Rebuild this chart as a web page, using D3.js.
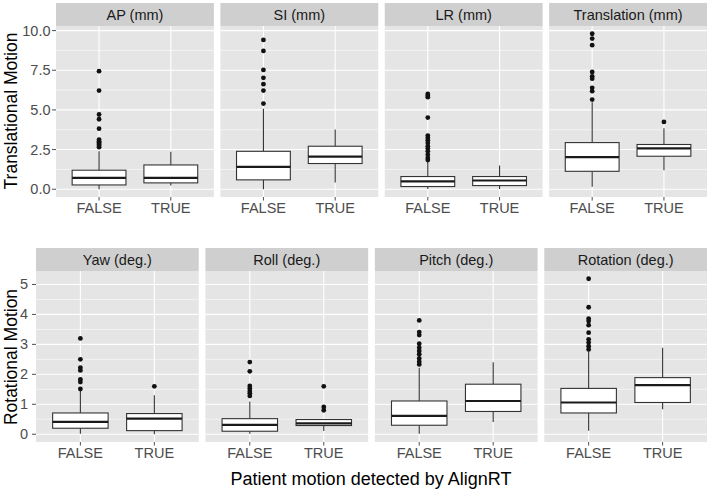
<!DOCTYPE html>
<html>
<head>
<meta charset="utf-8">
<script src="https://cdn.jsdelivr.net/npm/d3@7"></script>
<style>
  html, body { margin: 0; padding: 0; background: #ffffff; }
  svg { display: block; font-family: "Liberation Sans", Arial, sans-serif; }
</style>
</head>
<body>
<svg id="chart" width="709" height="492"></svg>
<script>
// ---------------- DATA ----------------
const groups = ["FALSE", "TRUE"];

const topPanels = ["AP (mm)", "SI (mm)", "LR (mm)", "Translation (mm)"];
const bottomPanels = ["Yaw (deg.)", "Roll (deg.)", "Pitch (deg.)", "Rotation (deg.)"];

const topTicks = [0, 2.5, 5, 7.5, 10];
const topTickLabels = ["0.0", "2.5", "5.0", "7.5", "10.0"];
const bottomTicks = [0, 1, 2, 3, 4, 5];
const bottomTickLabels = ["0", "1", "2", "3", "4", "5"];

// box stats per group: [lower whisker, Q1, median, Q3, upper whisker]
const apStats = [[0.00, 0.27, 0.71, 1.20, 2.40], [0.23, 0.40, 0.71, 1.53, 2.37]];
const apOutliers = [[7.44, 6.22, 4.71, 4.41, 3.82, 3.13, 3.03, 2.95, 2.87, 2.80, 2.72, 2.65], []];

const siStats = [[0.00, 0.59, 1.41, 2.39, 5.08], [0.42, 1.62, 2.06, 2.71, 3.76]];
const siOutliers = [[9.41, 8.72, 7.52, 7.02, 6.62, 6.22, 5.40], []];

const lrStats = [[0.02, 0.17, 0.50, 0.80, 1.72], [0.02, 0.23, 0.55, 0.80, 1.49]];
const lrOutliers = [[6.01, 5.90, 5.80, 4.52, 3.38, 3.24, 3.09, 2.92, 2.71, 2.56, 2.39, 2.18, 1.97, 1.84], []];

const transStats = [[0.15, 1.13, 2.02, 2.94, 5.48], [1.20, 2.08, 2.58, 2.82, 3.84]];
const transOutliers = [[9.80, 9.50, 9.08, 7.39, 7.12, 6.97, 6.39, 6.18, 5.65], [4.24]];

const yawStats = [[0.02, 0.20, 0.41, 0.71, 1.44], [0.00, 0.12, 0.52, 0.69, 1.30]];
const yawOutliers = [[3.20, 2.50, 2.22, 2.13, 1.83, 1.74, 1.51], [1.60]];

const rollStats = [[0.02, 0.10, 0.31, 0.52, 1.09], [0.11, 0.29, 0.36, 0.49, 0.50]];
const rollOutliers = [[2.41, 2.10, 1.61, 1.53, 1.44, 1.37, 1.28], [1.60, 0.91, 0.80]];

const pitchStats = [[0.02, 0.30, 0.61, 1.11, 2.22], [0.41, 0.76, 1.11, 1.67, 2.40]];
const pitchOutliers = [[3.80, 3.41, 3.31, 3.02, 2.89, 2.78, 2.67, 2.53, 2.42, 2.33], []];

const rotStats = [[0.12, 0.71, 1.06, 1.53, 2.76], [0.83, 1.06, 1.64, 1.89, 2.89]];
const rotOutliers = [[5.19, 4.24, 3.86, 3.78, 3.64, 3.39, 3.17, 3.06, 2.94, 2.83], []];

const topStats = [apStats, siStats, lrStats, transStats];
const topOut = [apOutliers, siOutliers, lrOutliers, transOutliers];
const bottomStats = [yawStats, rollStats, pitchStats, rotStats];
const bottomOut = [yawOutliers, rollOutliers, pitchOutliers, rotOutliers];

// ---------------- LAYOUT ----------------
const svg = d3.select("#chart");
const C = {
  panel: "#e5e5e5", strip: "#cfcfcf", grid: "#ffffff",
  axisText: "#4d4d4d", stripText: "#1a1a1a", box: "#333333", tick: "#4d4d4d"
};

function drawRow(opts) {
  const { left, right, stripTop, panelTop, panelBottom, gap, names, stats, outs,
          ticks, tickLabels, minorTicks, title, titleY, xLabelY, labelOffset } = opts;
  const n = names.length;
  const pw = (right - left - gap * (n - 1)) / n;

  // y domain from data with 5% expansion
  let maxV = 0, minV = 0;
  stats.forEach((s, i) => {
    s.forEach(g => { maxV = Math.max(maxV, d3.max(g)); minV = Math.min(minV, d3.min(g)); });
    outs[i].forEach(o => { if (o.length) maxV = Math.max(maxV, d3.max(o)); });
  });
  const ex = (maxV - minV) * 0.05;
  const y = d3.scaleLinear().domain([minV - ex, maxV + ex]).range([panelBottom, panelTop]);

  names.forEach((name, i) => {
    const x0 = left + i * (pw + gap);
    const x = d3.scalePoint().domain(groups).range([x0, x0 + pw]).padding(0.6);
    const step = x.step();
    const g = svg.append("g");

    // strip
    g.append("rect").attr("x", x0).attr("y", stripTop).attr("width", pw)
      .attr("height", panelTop - stripTop).attr("fill", C.strip);
    g.append("text").attr("x", x0 + pw / 2).attr("y", (stripTop + panelTop) / 2 + 5)
      .attr("text-anchor", "middle").attr("font-size", 14.5).attr("fill", C.stripText).text(name);

    // panel bg
    g.append("rect").attr("x", x0).attr("y", panelTop).attr("width", pw)
      .attr("height", panelBottom - panelTop).attr("fill", C.panel);

    // grid
    minorTicks.forEach(t => {
      g.append("line").attr("x1", x0).attr("x2", x0 + pw).attr("y1", y(t)).attr("y2", y(t))
        .attr("stroke", C.grid).attr("stroke-width", 0.55);
    });
    ticks.forEach(t => {
      g.append("line").attr("x1", x0).attr("x2", x0 + pw).attr("y1", y(t)).attr("y2", y(t))
        .attr("stroke", C.grid).attr("stroke-width", 1.1);
    });
    groups.forEach(gr => {
      g.append("line").attr("x1", x(gr)).attr("x2", x(gr)).attr("y1", panelTop).attr("y2", panelBottom)
        .attr("stroke", C.grid).attr("stroke-width", 1.1);
    });

    // boxes
    const bw = step * 0.75;
    groups.forEach((gr, gi) => {
      const s = stats[i][gi];
      const cx = x(gr);
      g.append("line").attr("x1", cx).attr("x2", cx).attr("y1", y(s[3])).attr("y2", y(s[4]))
        .attr("stroke", C.box).attr("stroke-width", 1.1);
      g.append("line").attr("x1", cx).attr("x2", cx).attr("y1", y(s[1])).attr("y2", y(s[0]))
        .attr("stroke", C.box).attr("stroke-width", 1.1);
      g.append("rect").attr("x", cx - bw / 2).attr("y", y(s[3])).attr("width", bw)
        .attr("height", y(s[1]) - y(s[3])).attr("fill", "#ffffff")
        .attr("stroke", C.box).attr("stroke-width", 1.1);
      g.append("line").attr("x1", cx - bw / 2).attr("x2", cx + bw / 2)
        .attr("y1", y(s[2])).attr("y2", y(s[2])).attr("stroke", "#1a1a1a").attr("stroke-width", 2.2);
      outs[i][gi].forEach(o => {
        g.append("circle").attr("cx", cx).attr("cy", y(o)).attr("r", 2.4).attr("fill", "#111111");
      });

      // x tick + label
      g.append("line").attr("x1", cx).attr("x2", cx).attr("y1", panelBottom).attr("y2", panelBottom + 3.5)
        .attr("stroke", C.tick).attr("stroke-width", 1);
      g.append("text").attr("x", cx).attr("y", xLabelY).attr("text-anchor", "middle")
        .attr("font-size", 14.5).attr("fill", C.axisText).text(gr);
    });
  });

  // y axis ticks and labels
  ticks.forEach((t, k) => {
    svg.append("line").attr("x1", left - 4).attr("x2", left).attr("y1", y(t)).attr("y2", y(t))
      .attr("stroke", C.tick).attr("stroke-width", 1);
    svg.append("text").attr("x", left - labelOffset).attr("y", y(t) + 5).attr("text-anchor", "end")
      .attr("font-size", 14.5).attr("fill", C.axisText).text(tickLabels[k]);
  });

  // y title
  svg.append("text").attr("transform", `translate(16.5,${titleY}) rotate(-90)`)
    .attr("text-anchor", "middle").attr("font-size", 17.5).attr("fill", "#000000").text(title);
}

drawRow({
  left: 56, right: 707, stripTop: 3, panelTop: 26, panelBottom: 197, gap: 6.5,
  names: topPanels, stats: topStats, outs: topOut,
  ticks: topTicks, tickLabels: topTickLabels, minorTicks: [1.25, 3.75, 6.25, 8.75],
  title: "Translational Motion", titleY: 111, xLabelY: 213, labelOffset: 5.5
});

drawRow({
  left: 36, right: 707, stripTop: 248, panelTop: 271, panelBottom: 442, gap: 6.7,
  names: bottomPanels, stats: bottomStats, outs: bottomOut,
  ticks: bottomTicks, tickLabels: bottomTickLabels, minorTicks: [0.5, 1.5, 2.5, 3.5, 4.5],
  title: "Rotational Motion", titleY: 357, xLabelY: 458, labelOffset: 8
});

svg.append("text").attr("x", 371).attr("y", 484.5).attr("text-anchor", "middle")
  .attr("font-size", 18).attr("fill", "#000000").text("Patient motion detected by AlignRT");
</script>
</body>
</html>
